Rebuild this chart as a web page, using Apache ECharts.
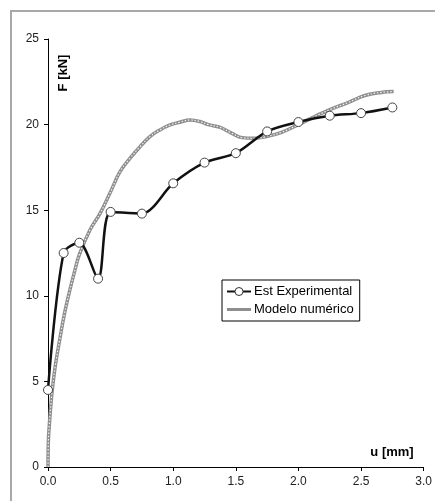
<!DOCTYPE html>
<html>
<head>
<meta charset="utf-8">
<script src="https://cdn.jsdelivr.net/npm/echarts@6/dist/echarts.min.js"></script>
<style>html,body{margin:0;padding:0;background:#fff}#c{width:435px;height:501px}</style>
</head>
<body>
<div id="c"></div>
<script>
// Data
var seriesNames = ['Est Experimental', 'Modelo numérico'];
var xTicks = [0, 0.5, 1.0, 1.5, 2.0, 2.5, 3.0];
var yTicks = [0, 5, 10, 15, 20, 25];
var experimental = [
  [0, 4.5], [0.125, 12.5], [0.25, 13.1], [0.4, 11.0], [0.5, 14.9], [0.75, 14.8],
  [1.0, 16.57], [1.25, 17.78], [1.5, 18.33], [1.75, 19.6], [2.0, 20.15],
  [2.25, 20.52], [2.5, 20.67], [2.75, 21.0]
];
var modelo = [
  [0, 0], [0.003, 1.5], [0.01, 2.4], [0.03, 4.2], [0.056, 5.8], [0.095, 7.5],
  [0.13, 8.9], [0.17, 10.2], [0.215, 11.5], [0.25, 12.4], [0.335, 13.84],
  [0.415, 14.8], [0.495, 16.0], [0.575, 17.25], [0.654, 18.03], [0.734, 18.7],
  [0.814, 19.3], [0.894, 19.69], [0.974, 19.98], [1.053, 20.14], [1.133, 20.27],
  [1.213, 20.18], [1.28, 20.0], [1.37, 19.85], [1.466, 19.5], [1.55, 19.24],
  [1.65, 19.2], [1.745, 19.3], [1.865, 19.55], [2.0, 20.0], [2.13, 20.47],
  [2.26, 20.9], [2.4, 21.3], [2.53, 21.7], [2.66, 21.88], [2.76, 21.93]
];

var chart = echarts.init(document.getElementById('c'), null, {renderer: 'canvas'});
var font = '"Liberation Sans", Arial, sans-serif';
chart.setOption({
  animation: false,
  backgroundColor: '#fff',
  textStyle: {fontFamily: font},
  grid: {left: 48, right: 11, top: 39, bottom: 34, containLabel: false},
  xAxis: {
    type: 'value', min: xTicks[0], max: xTicks[xTicks.length - 1], interval: 0.5,
    axisLine: {show: true, lineStyle: {color: '#000', width: 1}},
    axisTick: {show: true, length: 4, inside: false, lineStyle: {color: '#000'}},
    splitLine: {show: false},
    axisLabel: {color: '#222', fontSize: 12, fontFamily: font, margin: 9,
      formatter: function (v) { return v.toFixed(1); }}
  },
  yAxis: {
    type: 'value', min: yTicks[0], max: yTicks[yTicks.length - 1], interval: 5,
    axisLine: {show: true, lineStyle: {color: '#000', width: 1}},
    axisTick: {show: true, length: 4, inside: false, lineStyle: {color: '#000'}},
    splitLine: {show: false},
    axisLabel: {color: '#222', fontSize: 12, fontFamily: font, margin: 9}
  },
  legend: {
    orient: 'vertical', left: 222, top: 280,
    data: [
      {name: seriesNames[0], itemStyle: {color: '#fff', borderColor: '#333', borderWidth: 1}},
      {name: seriesNames[1], icon: 'path://M0,0H24V3H0Z', itemStyle: {color: '#8e8e8e', borderWidth: 0}}
    ],
    backgroundColor: '#fff', borderColor: '#000', borderWidth: 1, borderRadius: 0,
    padding: [5, 6, 5, 4], itemGap: 5, itemWidth: 24, itemHeight: 10,
    textStyle: {fontSize: 13, color: '#000', fontFamily: font, padding: [0, 0, 0, -2]}
  },
  graphic: [
    {type: 'rect', silent: true, z: -10,
      shape: {x: 11, y: 11, width: 440, height: 500},
      style: {fill: null, stroke: '#a8a8a8', lineWidth: 2}},
    {type: 'text', x: 63, y: 73, rotation: Math.PI / 2,
      style: {text: 'F [kN]', font: 'bold 13px "Liberation Sans", Arial, sans-serif',
        fill: '#000', align: 'center', verticalAlign: 'middle'}},
    {type: 'text', x: 392, y: 452,
      style: {text: 'u [mm]', font: 'bold 13px "Liberation Sans", Arial, sans-serif',
        fill: '#000', align: 'center', verticalAlign: 'middle'}}
  ],
  series: [
    {
      name: seriesNames[1], type: 'line', data: modelo, smooth: 0.4, z: 3,
      symbol: 'circle', symbolSize: 4, showSymbol: false,
      lineStyle: {color: '#8e8e8e', width: 3.5},
      itemStyle: {color: '#8e8e8e'}
    },
    {
      name: 'modelo-dots', type: 'line', data: modelo, smooth: 0.4, z: 4,
      symbol: 'none', silent: true,
      lineStyle: {color: '#f2f2f2', width: 1.2, type: [1.5, 1.8]}
    },
    {
      name: seriesNames[0], type: 'line', data: experimental, smooth: 0.3, z: 5,
      symbol: 'circle', symbolSize: 9, showSymbol: true,
      lineStyle: {color: '#111', width: 2.5},
      itemStyle: {color: '#fff', borderColor: '#444', borderWidth: 1}
    }
  ]
});
</script>
</body>
</html>
